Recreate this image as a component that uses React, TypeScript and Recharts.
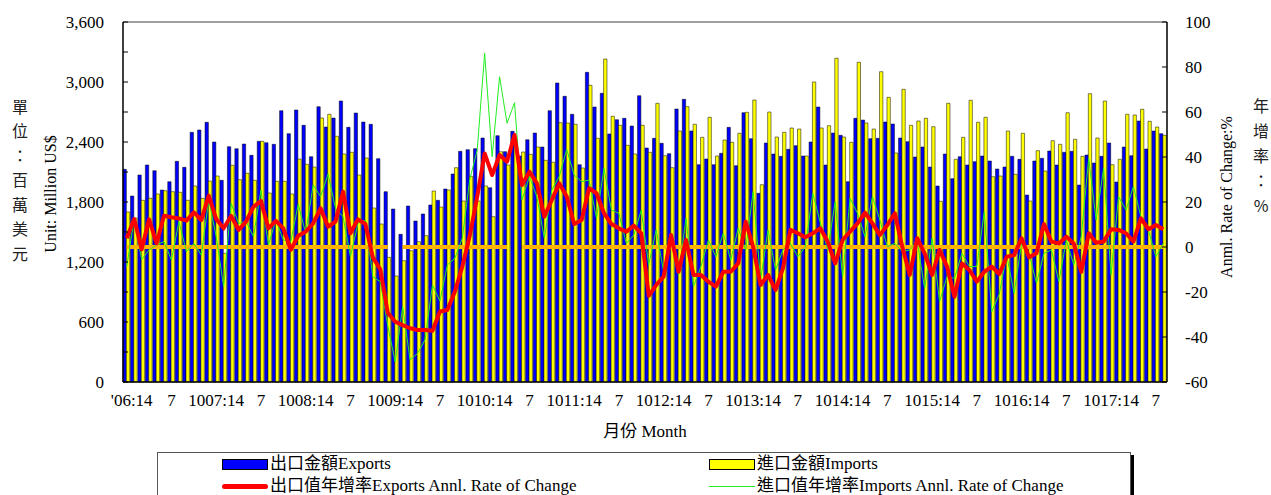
import React from 'react';
import { ComposedChart, Bar, Line, XAxis, YAxis, Legend, ReferenceLine, Customized } from 'recharts';

const FONT = "'Liberation Serif', 'Noto Sans CJK TC', serif";
const CJK = "'Noto Sans CJK TC', 'Liberation Serif', serif";

const years = [2006, 2007, 2008, 2009, 2010, 2011, 2012, 2013, 2014, 2015, 2016, 2017];
const lastYearMonths = 8;
const months: string[] = [];
for (const y of years) {
  const n = y === 2017 ? lastYearMonths : 12;
  for (let m = 1; m <= n; m++) months.push(`${y}-${String(m).padStart(2, '0')}`);
}

// 出口金額 Exports (Million US$)
const exportsVal = [
  2127, 1860, 2070, 2170, 2113, 1920, 2003, 2207, 2147, 2497, 2520, 2597,
  2400, 2017, 2353, 2333, 2380, 2267, 2407, 2393, 2377, 2713, 2483, 2720,
  2567, 2253, 2753, 2550, 2640, 2810, 2547, 2690, 2600, 2577, 2233, 1903,
  1730, 1477, 1760, 1610, 1680, 1770, 1817, 1930, 2080, 2307, 2323, 2333,
  2440, 1943, 2463, 2303, 2507, 2260, 2423, 2490, 2350, 2713, 2990, 2857,
  2677, 2173, 3097, 2750, 2887, 2480, 2623, 2637, 2560, 2863, 2340, 2437,
  2387, 2283, 2730, 2827, 2510, 2173, 2230, 2173, 2287, 2547, 2163, 2693,
  2433, 1887, 2390, 2280, 2257, 2327, 2363, 2260, 2400, 2750, 2170, 2490,
  2467, 2003, 2637, 2620, 2433, 2437, 2600, 2580, 2440, 2403, 2250, 2350,
  2150, 1960, 2280, 2033, 2253, 2170, 2203, 2260, 2210, 2130, 2150, 2257,
  2227, 1870, 2210, 2237, 2310, 2170, 2297, 2307, 1970, 2270, 2190, 2257,
  2390, 2000, 2350, 2263, 2610, 2330, 2510, 2483,
];

// 進口金額 Imports (Million US$)
const importsVal = [
  1700, 1640, 1817, 1837, 1880, 1913, 1903, 1897, 1817, 1960, 1837, 2010,
  2060, 1287, 2167, 2023, 2087, 2017, 2407, 1890, 2007, 2007, 1880, 2230,
  2177, 2150, 2640, 2677, 2457, 2280, 2297, 2070, 2240, 1740, 1580, 1247,
  1060, 1213, 1313, 1403, 1463, 1910, 1750, 1920, 2143, 1810, 2057, 1810,
  1960, 1653, 2303, 2170, 2397, 2300, 2277, 2350, 2217, 2197, 2593, 2590,
  2577, 2140, 2967, 2437, 3230, 2657, 2567, 2367, 2280, 2567, 2297, 2787,
  2263, 2143, 2510, 2753, 2577, 2447, 2647, 2260, 2420, 2397, 2487, 2697,
  2820, 1973, 2700, 2450, 2497, 2540, 2530, 2260, 3000, 2540, 2563, 3237,
  2450, 2397, 3197, 2590, 2530, 3103, 2847, 2290, 2927, 2567, 2610, 2637,
  2553, 1807, 2787, 2227, 2447, 2817, 2597, 2647, 2053, 2060, 2510, 2077,
  2487, 1810, 2313, 2110, 2413, 2377, 2693, 2427, 2257, 2883, 2440, 2810,
  2173, 2227, 2677, 2670, 2727, 2607, 2550, 2467,
];

// 出口值年增率 Exports Annl. Rate of Change (%)
const exportsRate = [
  3.9, 12.4, -1.0, 12.3, 1.6, 13.9, 13.2, 12.7, 11.7, 15.4, 12.0, 22.8,
  12.4, 8.3, 13.8, 7.6, 11.3, 17.9, 20.4, 8.3, 11.6, 8.3, -1.3, 5.0,
  6.8, 10.5, 17.2, 9.0, 11.3, 24.6, 6.1, 12.3, 10.2, -4.6, -9.9, -29.2,
  -33.2, -34.7, -36.1, -36.9, -36.9, -37.2, -28.7, -28.0, -19.9, -8.7, 5.0, 22.4,
  41.6, 32.0, 40.9, 37.9, 49.8, 27.6, 33.5, 28.3, 13.5, 20.9, 28.3, 22.4,
  10.2, 12.0, 26.1, 23.9, 15.0, 10.2, 8.3, 6.8, 9.5, 6.1, -21.7, -16.9,
  -13.2, 5.3, -11.0, 3.1, -12.4, -12.4, -15.4, -17.6, -11.0, -11.0, -7.3, 11.3,
  0.1, -16.9, -12.4, -19.1, -9.5, 7.6, 6.1, 4.3, 6.1, 8.3, 2.4, -7.3,
  3.1, 6.8, 10.5, 15.3, 10.5, 5.3, 9.8, 15.0, 0.1, -12.4, 3.9, -2.8,
  -12.4, -1.3, -8.7, -22.1, -7.3, -10.2, -15.4, -11.0, -8.7, -12.0, -4.3, -3.6,
  3.9, -4.6, -2.8, 10.2, 2.4, 1.6, 4.6, 1.6, -11.0, 6.1, 1.9, 2.4,
  7.9, 7.6, 6.1, 2.4, 12.7, 7.9, 9.8, 7.9,
];

// 進口值年增率 Imports Annl. Rate of Change (%)
const importsRate = [
  -8.7, 12.4, -5.5, -1.3, 0.9, 2.4, -5.8, 11.3, -2.1, 1.6, -3.6, 20.9,
  4.6, -17.6, 19.4, 10.5, 11.3, 4.6, 25.3, 0.9, 12.0, 3.1, 2.4, 19.0,
  6.1, 27.6, 22.4, 32.4, 17.2, 13.5, -4.3, 10.5, 12.0, -13.2, -15.4, -35.0,
  -51.0, -26.5, -50.2, -47.3, -41.3, -16.9, -24.0, -8.0, -5.0, 3.9, 30.0, 43.1,
  86.1, 40.1, 75.7, 55.0, 64.1, 20.9, 31.3, 22.4, 3.9, 25.3, 31.3, 43.4,
  32.0, 29.0, 29.8, 12.7, 35.0, 16.4, 15.0, 1.6, 5.3, 16.4, -8.0, 7.6,
  -11.0, 4.6, -12.4, 12.7, -17.6, -8.7, 3.1, -4.3, 6.1, -5.8, 8.3, -1.3,
  24.6, -14.7, 7.6, -10.2, -1.3, 1.6, -4.3, 0.1, 23.9, 11.0, -1.3, 20.1,
  -13.2, 21.6, 15.0, 4.6, 22.4, 12.0, 0.1, 1.6, -2.1, -1.3, 2.4, -18.4,
  3.9, -24.3, -13.2, -13.9, -2.8, -8.7, -8.7, 15.7, -28.7, -21.0, -3.6, -20.6,
  1.6, -2.8, -16.1, -2.8, -1.3, -15.4, 3.1, -8.0, 4.6, 39.4, 12.0, 35.0,
  -12.4, 22.4, 16.4, 26.8, 13.5, 7.6, -4.3, 1.6,
];

// zero reference line (gaps where the original line is broken)
const zeroGapMonths = ['2009-01', '2010-05'];

const xTickLabels = [
  "'06:14", '7', '1007:14', '7', '1008:14', '7', '1009:14', '7', '1010:14', '7', '1011:14', '7',
  '1012:14', '7', '1013:14', '7', '1014:14', '7', '1015:14', '7', '1016:14', '7', '1017:14', '7',
];
const xTickCats = months.filter((_, i) => i % 6 === 0);

const leftTicks = [0, 300, 600, 900, 1200, 1500, 1800, 2100, 2400, 2700, 3000, 3300, 3600];
const rightTicks = [-60, -40, -20, 0, 20, 40, 60, 80, 100];

const data = months.map((m, i) => ({
  m,
  exp: exportsVal[i],
  imp: importsVal[i],
  er: exportsRate[i],
  ir: importsRate[i],
  zero: zeroGapMonths.includes(m) ? null : 0,
}));

const LEFT_MARGIN = 19;
const RIGHT_MARGIN = 18;

const LeftTick = (props: any) => {
  const { x, y, payload } = props;
  const v = payload.value as number;
  return (
    <g>
      <line x1={x + LEFT_MARGIN} x2={x + LEFT_MARGIN + 5} y1={y} y2={y} stroke="#000" strokeWidth={1} />
      {v % 600 === 0 && (
        <text x={x} y={y} dy="0.35em" textAnchor="end" fontFamily={FONT} fontSize={17} fill="#000">
          {v.toLocaleString('en-US')}
        </text>
      )}
    </g>
  );
};

const RightTick = (props: any) => {
  const { x, y, payload } = props;
  const v = payload.value as number;
  return (
    <g>
      <line x1={x - RIGHT_MARGIN} x2={x - RIGHT_MARGIN - 5} y1={y} y2={y} stroke="#000" strokeWidth={1} />
      <text x={x} y={y} dy="0.35em" textAnchor="start" fontFamily={FONT} fontSize={17} fill="#000">
        {v}
      </text>
    </g>
  );
};

const XTick = (props: any) => {
  const { x, y, payload } = props;
  const i = xTickCats.indexOf(payload.value);
  if (i < 0) return null;
  return (
    <text x={x + (i === 0 ? 5 : 0)} y={y} dy="0.71em" textAnchor="middle" fontFamily={FONT} fontSize={17} fill="#000">
      {xTickLabels[i]}
    </text>
  );
};

const leftCjk = ['單', '位', '：', '百', '萬', '美', '元'];
const rightCjk = ['年', '增', '率', '：', '%'];

const Titles = () => (
  <g>
    {leftCjk.map((c, i) => (
      <text key={'l' + i} x={20} y={107 + i * 24.5} dy="0.35em" textAnchor="middle" fontFamily={CJK} fontSize={16} fill="#222">
        {c}
      </text>
    ))}
    <text x={50} y={194} transform="rotate(-90 50 194)" dy="0.35em" textAnchor="middle" fontFamily={FONT} fontSize={16} fill="#000">
      Unit: Million US$
    </text>
    <text x={1226} y={197} transform="rotate(-90 1226 197)" dy="0.35em" textAnchor="middle" fontFamily={FONT} fontSize={16} fill="#000">
      Anml. Rate of Change:%
    </text>
    {rightCjk.map((c, i) => (
      <text key={'r' + i} x={1261} y={106 + i * 25} dy="0.35em" textAnchor="middle" fontFamily={CJK} fontSize={16} fill="#222">
        {c}
      </text>
    ))}
    <text x={645} y={431} dy="0.35em" textAnchor="middle" fontFamily={FONT} fontSize={17} fill="#000">
      月份 Month
    </text>
  </g>
);

const LegendItem = ({ kind, color, text }: { kind: 'bar' | 'thick' | 'thin'; color: string; text: string }) => (
  <div style={{ display: 'flex', alignItems: 'center', height: 18, whiteSpace: 'nowrap' }}>
    {kind === 'bar' && (
      <div style={{ width: 44, height: 9, background: color, border: '1px solid #000', marginRight: 2 }} />
    )}
    {kind === 'thick' && (
      <div style={{ width: 46, height: 5, background: color, borderRadius: 3, marginRight: 2 }} />
    )}
    {kind === 'thin' && <div style={{ width: 46, height: 1, background: color, marginRight: 2 }} />}
    <span>{text}</span>
  </div>
);

const LegendBox = () => (
  <div
    style={{
      position: 'relative',
      width: 972,
      height: 60,
      border: '1px solid #555',
      boxShadow: '3px 3px 0 #000',
      background: '#fff',
      fontFamily: FONT,
      fontSize: 17,
      color: '#000',
      lineHeight: '18px',
    }}
  >
    <div style={{ position: 'absolute', left: 64, top: 2 }}>
      <LegendItem kind="bar" color="#0000FF" text="出口金額Exports" />
    </div>
    <div style={{ position: 'absolute', left: 551, top: 2 }}>
      <LegendItem kind="bar" color="#FFFF00" text="進口金額Imports" />
    </div>
    <div style={{ position: 'absolute', left: 64, top: 24 }}>
      <LegendItem kind="thick" color="#FF0000" text="出口值年增率Exports Annl. Rate of Change" />
    </div>
    <div style={{ position: 'absolute', left: 551, top: 24 }}>
      <LegendItem kind="thin" color="#22EE22" text="進口值年增率Imports Annl. Rate of Change" />
    </div>
  </div>
);

export default function App() {
  return (
    <div style={{ position: 'absolute', left: 0, top: 0, width: 1271, height: 495, overflow: 'hidden', background: '#fff' }}>
      <ComposedChart
        width={1271}
        height={495}
        data={data}
        margin={{ top: 22, right: 0, bottom: 0, left: 0 }}
        barCategoryGap="7%"
        barGap={0}
        barSize={3.35}
      >
        <XAxis
          dataKey="m"
          ticks={xTickCats}
          interval={0}
          tick={<XTick />}
          tickLine={false}
          tickSize={0}
          tickMargin={12}
          height={113}
          axisLine={{ stroke: '#000', strokeWidth: 1.5 }}
        />
        <YAxis
          yAxisId="left"
          domain={[0, 3600]}
          ticks={leftTicks}
          interval={0}
          width={123}
          tick={<LeftTick />}
          tickLine={false}
          tickSize={0}
          tickMargin={LEFT_MARGIN}
          axisLine={{ stroke: '#000', strokeWidth: 1.5 }}
        />
        <YAxis
          yAxisId="right"
          orientation="right"
          domain={[-60, 100]}
          ticks={rightTicks}
          interval={0}
          width={104}
          tick={<RightTick />}
          tickLine={false}
          tickSize={0}
          tickMargin={RIGHT_MARGIN}
          axisLine={{ stroke: '#000', strokeWidth: 1.5 }}
        />
        <ReferenceLine yAxisId="left" y={3600} stroke="#808080" strokeWidth={1.5} />
        <Bar yAxisId="left" dataKey="exp" fill="#0000FF" stroke="#000" strokeWidth={0.5} isAnimationActive={false} />
        <Bar yAxisId="left" dataKey="imp" fill="#FFFF00" stroke="#000" strokeWidth={0.5} isAnimationActive={false} />
        <Line yAxisId="right" dataKey="zero" stroke="#FFB300" strokeWidth={4} dot={false} activeDot={false} connectNulls={false} isAnimationActive={false} />
        <Line yAxisId="right" dataKey="ir" stroke="#22EE22" strokeWidth={1} dot={false} activeDot={false} isAnimationActive={false} />
        <Line yAxisId="right" dataKey="er" stroke="#FF0000" strokeWidth={4} strokeLinejoin="round" dot={false} activeDot={false} isAnimationActive={false} />
        <Customized component={Titles} />
        <Legend
          layout="vertical"
          align="center"
          verticalAlign="middle"
          content={() => <LegendBox />}
          wrapperStyle={{ left: 157, top: 452, width: 976, height: 64 }}
        />
      </ComposedChart>
    </div>
  );
}
